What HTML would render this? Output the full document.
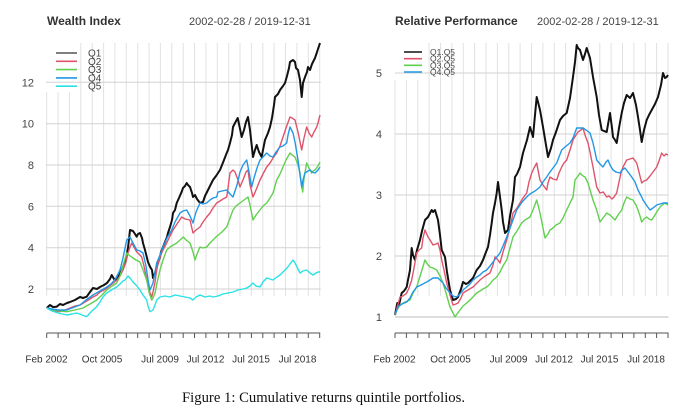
<!DOCTYPE html>
<html>
<head>
<meta charset="utf-8">
<style>
html,body{margin:0;padding:0;background:#fff;}
svg{display:block;}
text{font-family:"Liberation Sans",Arial,sans-serif;}
text.cap{font-family:"Liberation Serif","Times New Roman",serif;}
</style>
</head>
<body>
<svg width="687" height="415" viewBox="0 0 687 415" xmlns="http://www.w3.org/2000/svg">
<rect width="687" height="415" fill="#fff"/>

<!-- ============ LEFT PANEL ============ -->
<g>
  <g stroke="#e2e2e2" stroke-width="1">
    <line x1="46.7" y1="92" x2="46.7" y2="296"/>
    <line x1="58.1" y1="92" x2="58.1" y2="296"/>
    <line x1="69.5" y1="92" x2="69.5" y2="296"/>
    <line x1="80.8" y1="43" x2="80.8" y2="296"/>
    <line x1="92.2" y1="43" x2="92.2" y2="296"/>
    <line x1="103.6" y1="43" x2="103.6" y2="296"/>
    <line x1="114.9" y1="43" x2="114.9" y2="296"/>
    <line x1="126.3" y1="43" x2="126.3" y2="296"/>
    <line x1="137.7" y1="43" x2="137.7" y2="296"/>
    <line x1="149.1" y1="43" x2="149.1" y2="296"/>
    <line x1="160.4" y1="43" x2="160.4" y2="296"/>
    <line x1="171.8" y1="43" x2="171.8" y2="296"/>
    <line x1="183.2" y1="43" x2="183.2" y2="296"/>
    <line x1="194.5" y1="43" x2="194.5" y2="296"/>
    <line x1="205.9" y1="43" x2="205.9" y2="296"/>
    <line x1="217.3" y1="43" x2="217.3" y2="296"/>
    <line x1="228.7" y1="43" x2="228.7" y2="296"/>
    <line x1="240.0" y1="43" x2="240.0" y2="296"/>
    <line x1="251.4" y1="43" x2="251.4" y2="296"/>
    <line x1="262.8" y1="43" x2="262.8" y2="296"/>
    <line x1="274.1" y1="43" x2="274.1" y2="296"/>
    <line x1="285.5" y1="43" x2="285.5" y2="296"/>
    <line x1="296.9" y1="43" x2="296.9" y2="296"/>
    <line x1="308.3" y1="43" x2="308.3" y2="296"/>
    <line x1="319.7" y1="43" x2="319.7" y2="296"/>
  </g>
  <g stroke="#d2d2d2" stroke-width="1">
    <line x1="46" y1="289" x2="320.7" y2="289"/>
    <line x1="46" y1="247.7" x2="320.7" y2="247.7"/>
    <line x1="46" y1="206.3" x2="320.7" y2="206.3"/>
    <line x1="46" y1="165" x2="320.7" y2="165"/>
    <line x1="46" y1="123.7" x2="320.7" y2="123.7"/>
    <line x1="46" y1="82.3" x2="320.7" y2="82.3"/>
  </g>
  <g font-size="11" fill="#444" text-anchor="end">
    <text x="34" y="293">2</text>
    <text x="34" y="251.7">4</text>
    <text x="34" y="210.3">6</text>
    <text x="34" y="169">8</text>
    <text x="34" y="127.7">10</text>
    <text x="34" y="86.3">12</text>
  </g>
  <text x="47" y="25" font-size="12" font-weight="bold" fill="#333">Wealth Index</text>
  <text x="189" y="25" font-size="11" fill="#444">2002-02-28 / 2019-12-31</text>

  <g fill="none" stroke-linejoin="round">
    <polyline stroke="#111" stroke-width="2" points="46.7,308 50,305 53,307 56.7,306.7 60,304 63,305 67,303 70,302 75,300 80,297 83,298 86.7,296.7 90,292 93,288 97,289 100,287 104,285 107,283 110,279 111.7,275 114,279 116.7,280 120,274 123,267 126,258 128,248 130,230 133,231 135,234 136.7,236.7 138,234 140,233 142,238 143,243 145,250 146.7,256.7 148,262 150,266.7 152,270 153,278 155,273 157,266 158,263 160,257 161,252 163,247 165,242 167,237 168,233 170,227 172,220 173,213 175,210 176.7,203 179,198 181.7,191.7 183,188 185,186 186.7,183 188,185 190,187 192,193 193,197 195,195 197,199 200,203 203,202 205,196 208,190 210,186 213,180 216,176 220,170 222,165 224,160 226.7,153 228,150 230,143 232,135 233,127 235,123 237.7,118 239,124 241.7,137 244,130 246,122 248,117 250,130 252,148 253,157 255,150 256.7,145 259,152 261.7,157 263,150 265,140 268,133 270,127 272,118 274,105 275,97 278,94 280,90 283,86 285,83 287,76 289,68 290,62 293,60 295,62 296,68 298,70 300,80 301.7,97 303,83 305,77 307,72 308,67 310,70 312,64 313,62 315,58 316.7,53 318,49 320,43"/>
    <polyline stroke="#DF536B" stroke-width="1.4" points="46.7,308 50,309 55,311 60,311.7 65,310 70,308 75,306 80,305 85,302 90,299 93,297 97,295 100,292 104,290 107,288 112,284 117,280 120,276 123,270 126,262 128,253 130,247 131.7,243 134,247 136.7,252 139,254 141.7,257 144,266 146.7,280 149,290 151.7,297 153,292 155,282 156.7,270 158,264 160,257 163,250 166.7,243 170,236 173,230 177,224 181.7,217 185,219 190,220 193,233 196,230 200,227 203,222 206.7,217 210,213 213,208 216.7,203 220,201 223,199 226.7,197 228,188 230,173 233,170 235,172 238,180 240,187 243,180 246,172 248,170 250,185 253,197 256,190 260,180 263,174 266.7,167 270,163 273,158 276.7,153 280,146 283,137 286,128 290,117 292,118 295,120 298,132 301.7,150 304,138 306.7,127 309,133 311.7,137 314,132 316.7,127 318,123 320,115"/>
    <polyline stroke="#61D04F" stroke-width="1.4" points="46.7,308 53,310 60,311 66.7,311.7 75,310 83,308 90,304 96.7,300 102,295 106.7,290 112,286 116.7,283 120,276 123,266 126.7,253 129,255 131.7,257 136,260 140,262 143,270 146.7,280 149,292 151.7,300 153,298 155,293 157,283 160,270 163,260 166.7,250 170,247 176.7,243 180,240 183.3,237 186,240 190,243 193,252 195,260 197,254 200,247 203,248 206.7,247 210,243 213,240 217,236 222,232 226.7,227 230,218 233,210 236,206 240,203 244,200 248,197 250,205 253,220 256,215 260,210 263,206 266.7,203 270,198 273,193 276.7,180 280,174 283,167 286,160 290,153 292,155 295,157 298,165 300,173 301.5,185 302.7,192 304,178 306.7,163 309,168 311.7,173 313,171 315,170 318,166 320,162"/>
    <polyline stroke="#2297E6" stroke-width="1.4" points="46.7,308 52,309 58,310 66.7,310 72,308 80,305 86,300 93,295 100,291 107,287 112,283 116,278 120,270 123,258 126.7,240 130,237 133,243 136.7,250 140,251 143,253 146,266 148,280 150,290 153,283 155,272 156.7,263 160,255 163,247 167,238 171.7,230 175,222 180,213 183,211 186.7,210 190,216 193,223 196,212 200,203 203,204 206.7,203 210,200 213,198 216.7,197 218,192 222,191 226.7,190 230,194 233,197 237,185 240,172 243,165 246.7,160 249,172 251.7,187 254,178 257,168 260,160 263,157 266.7,153 270,156 273,157 276,152 280,147 283,146 286.7,143 288,135 290,127 293,133 295,142 298,160 300,175 301.7,187 303,180 305,173 308,171 310,170 312,172 315,173 318,170 320,167"/>
    <polyline stroke="#28E2E5" stroke-width="1.4" points="46.7,308 52,311 58,313 66.7,315 72,314 76.7,313 82,315 86.7,316.7 90,313 93,310 96.7,306.7 100,302 103,297 106.7,293 110,291 113,289 116.7,287 120,284 123,281 125,280 128,276 130,278 133,282 136,285 140,290 143,295 146.7,300 148,306 150,311.7 153,310 155,305 156.7,300 160,297 165,296 170,297 175,295 180,296 185,297 190,298 193,300 196,297 200,295 205,297 210,296 213,297 218,296 223,294 228,293 233,292 238,290 243,289 246.7,288 250,286 253,283 256,286 260,287 263,282 266.7,278 270,279 273,280 277,277 280,275 283,272 287,268 290,264 293,260 295,263 297,267 300,273 303,271 306.7,270 310,273 313,275 316,273 318,272 320,272"/>
  </g>

  <g stroke-width="1.6">
    <line x1="56" y1="53" x2="77" y2="53" stroke="#555"/>
    <line x1="56" y1="61.3" x2="77" y2="61.3" stroke="#DF536B"/>
    <line x1="56" y1="69.6" x2="77" y2="69.6" stroke="#61D04F"/>
    <line x1="56" y1="77.9" x2="77" y2="77.9" stroke="#2297E6"/>
    <line x1="56" y1="86.2" x2="77" y2="86.2" stroke="#28E2E5"/>
  </g>
  <g font-size="10" fill="#444">
    <text x="88" y="56.5">Q1</text>
    <text x="88" y="64.8">Q2</text>
    <text x="88" y="73.1">Q3</text>
    <text x="88" y="81.4">Q4</text>
    <text x="88" y="89.7">Q5</text>
  </g>

  <g stroke="#555" stroke-width="1">
    <line x1="46.7" y1="333" x2="320.2" y2="333"/>
    <line x1="46.7" y1="333" x2="46.7" y2="338"/>
    <line x1="58.1" y1="333" x2="58.1" y2="338"/>
    <line x1="69.5" y1="333" x2="69.5" y2="338"/>
    <line x1="80.8" y1="333" x2="80.8" y2="338"/>
    <line x1="92.2" y1="333" x2="92.2" y2="338"/>
    <line x1="103.6" y1="333" x2="103.6" y2="338"/>
    <line x1="114.9" y1="333" x2="114.9" y2="338"/>
    <line x1="126.3" y1="333" x2="126.3" y2="338"/>
    <line x1="137.7" y1="333" x2="137.7" y2="338"/>
    <line x1="149.1" y1="333" x2="149.1" y2="338"/>
    <line x1="160.4" y1="333" x2="160.4" y2="338"/>
    <line x1="171.8" y1="333" x2="171.8" y2="338"/>
    <line x1="183.2" y1="333" x2="183.2" y2="338"/>
    <line x1="194.5" y1="333" x2="194.5" y2="338"/>
    <line x1="205.9" y1="333" x2="205.9" y2="338"/>
    <line x1="217.3" y1="333" x2="217.3" y2="338"/>
    <line x1="228.7" y1="333" x2="228.7" y2="338"/>
    <line x1="240.0" y1="333" x2="240.0" y2="338"/>
    <line x1="251.4" y1="333" x2="251.4" y2="338"/>
    <line x1="262.8" y1="333" x2="262.8" y2="338"/>
    <line x1="274.1" y1="333" x2="274.1" y2="338"/>
    <line x1="285.5" y1="333" x2="285.5" y2="338"/>
    <line x1="296.9" y1="333" x2="296.9" y2="338"/>
    <line x1="308.3" y1="333" x2="308.3" y2="338"/>
    <line x1="319.7" y1="333" x2="319.7" y2="338"/>
  </g>
  <g font-size="10" fill="#333" text-anchor="middle">
    <text x="46.5" y="362.5">Feb 2002</text>
    <text x="102" y="362.5">Oct 2005</text>
    <text x="160" y="362.5">Jul 2009</text>
    <text x="205.5" y="362.5">Jul 2012</text>
    <text x="251" y="362.5">Jul 2015</text>
    <text x="297.5" y="362.5">Jul 2018</text>
  </g>
</g>

<!-- ============ RIGHT PANEL ============ -->
<g>
  <g stroke="#e2e2e2" stroke-width="1">
    <line x1="395.0" y1="80" x2="395.0" y2="296"/>
    <line x1="406.4" y1="80" x2="406.4" y2="296"/>
    <line x1="417.8" y1="80" x2="417.8" y2="296"/>
    <line x1="429.1" y1="43" x2="429.1" y2="296"/>
    <line x1="440.5" y1="43" x2="440.5" y2="296"/>
    <line x1="451.9" y1="43" x2="451.9" y2="296"/>
    <line x1="463.3" y1="43" x2="463.3" y2="296"/>
    <line x1="474.6" y1="43" x2="474.6" y2="296"/>
    <line x1="486.0" y1="43" x2="486.0" y2="296"/>
    <line x1="497.4" y1="43" x2="497.4" y2="296"/>
    <line x1="508.8" y1="43" x2="508.8" y2="296"/>
    <line x1="520.1" y1="43" x2="520.1" y2="296"/>
    <line x1="531.5" y1="43" x2="531.5" y2="296"/>
    <line x1="542.9" y1="43" x2="542.9" y2="296"/>
    <line x1="554.3" y1="43" x2="554.3" y2="296"/>
    <line x1="565.6" y1="43" x2="565.6" y2="296"/>
    <line x1="577.0" y1="43" x2="577.0" y2="296"/>
    <line x1="588.4" y1="43" x2="588.4" y2="296"/>
    <line x1="599.8" y1="43" x2="599.8" y2="296"/>
    <line x1="611.1" y1="43" x2="611.1" y2="296"/>
    <line x1="622.5" y1="43" x2="622.5" y2="296"/>
    <line x1="633.9" y1="43" x2="633.9" y2="296"/>
    <line x1="645.3" y1="43" x2="645.3" y2="296"/>
    <line x1="656.6" y1="43" x2="656.6" y2="296"/>
    <line x1="668.0" y1="43" x2="668.0" y2="296"/>
  </g>
  <g stroke="#d2d2d2" stroke-width="1">
    <line x1="395" y1="256" x2="668.5" y2="256"/>
    <line x1="395" y1="195" x2="668.5" y2="195"/>
    <line x1="395" y1="134" x2="668.5" y2="134"/>
    <line x1="395" y1="73" x2="668.5" y2="73"/>
  </g>
  <line x1="395" y1="317" x2="668.5" y2="317" stroke="#bbb" stroke-width="1"/>
  <g font-size="11" fill="#444" text-anchor="end">
    <text x="382" y="321">1</text>
    <text x="382" y="260">2</text>
    <text x="382" y="199">3</text>
    <text x="382" y="138">4</text>
    <text x="382" y="77">5</text>
  </g>
  <text x="395" y="25" font-size="12" font-weight="bold" fill="#333">Relative Performance</text>
  <text x="537" y="25" font-size="11" fill="#444">2002-02-28 / 2019-12-31</text>

  <g fill="none" stroke-linejoin="round">
    <polyline stroke="#111" stroke-width="2" points="395,315 397.3,303 399,305 401.7,293 404,291 406.7,287 408,280 410,270 411.7,248 413,255 415,260 417,250 420,240 422,231 425,220 428,217 431.7,210 433,212 435,210 438,220 440,235 441.7,250 445,257 447,272 450,290 453,300 456,299 458,297 461,289 463,282 466,284 468,283 471,280 473,278 476.7,270 480,266 483,260 486,252 488,247 490,235 491.7,223 493,213 495,203 496.7,193 498,182 500,197 501.7,210 503,222 505,233 508,230 510,216 511.7,207 513,200 515,177 517,174 520,167 523,153 527,140 530,127 533,137 535,115 536.7,97 538,102 540,110 543,127 546,145 548,157 551,148 553,140 556,132 560,120 563,116 566.7,113 570,98 573,77 575,62 576.7,45 578,48 580,50 583,60 585,54 586.7,48 588,52 590,58 593,77 596.7,97 599,115 601.7,130 604,131 606.7,132 610,113 612,128 613,137 615,140 616.7,143 619,128 621.7,113 624,103 626.7,95 630,98 633,93 636,105 638,117 640,130 641.7,142 644,130 646.7,120 649,115 651.7,110 655,104 658,97 661,85 663,73 665,78 666.7,77 668,75"/>
    <polyline stroke="#DF536B" stroke-width="1.4" points="395,315 397,308 400,297 403,296 406.7,293 409,288 411.7,280 414,268 416.7,253 419,250 421.7,248 423,238 425,230 428,237 430,240 433,245 436,244 438,243 440,250 441.7,260 444,270 446.7,283 450,295 453,305 456,304 458,303 461,298 463,293 468,290 473,287 477,283 480,280 485,276 490,273 493,265 495,257 498,260 500,263 503,252 506.7,240 510,228 513,213 517,208 520,203 523,198 526.7,193 529,182 531.7,173 534,168 536.7,163 538,170 540,180 543,185 546.7,190 548,183 550,177 553,179 556.7,180 559,173 561.7,167 564,163 566.7,160 570,150 573,140 576,135 578,132 581,130 583,128 585,135 588,143 590,152 593,167 595,178 596.7,187 600,193 603.3,192 606.7,197 609,196 612,199 614,197 616.7,193 619,182 621,173 623,167 626.7,160 630,159 633,158 636.7,163 639,172 641.7,183 644,181 646.7,180 650,176 653,172 656.7,167 659,161 661.7,153 664,156 666,154 668,155"/>
    <polyline stroke="#61D04F" stroke-width="1.4" points="395,315 397,310 400,305 405,302 410,300 413,293 416.7,287 421,273 425,260 428,265 430,267 433,268 436.7,270 440,276 443,283 446,293 450,307 453,313 455,317 457,314 460,310 463,306 466.7,303 470,300 473,297 476.7,293 480,291 483,289 486.7,287 490,284 493,280 496.7,277 500,272 503,266 506.7,260 510,248 513,237 517,231 521.7,223 525,220 530,217 533,210 536.7,200 538,205 540,213 543,228 545,238 548,234 550,230 553,228 556,225 560,223 563,218 566.7,210 570,203 573,197 575,180 578,176 580,173 583,176 585,177 588,183 590,190 593,200 596.7,210 600,222 603,218 606.7,213 610,215 615,220 618,215 621.7,210 624,203 626.7,197 630,199 633,200 636,205 638,210 640,216 641.7,222 644,219 646.7,217 649,219 651.7,220 655,215 658,210 661,206 665,203 668,205"/>
    <polyline stroke="#2297E6" stroke-width="1.4" points="395,315 398,307 402,304 406.7,302 410,298 413,292 416.7,287 421,285 426.7,282 430,280 433,278 438,278 443,283 446,288 450,293 453,296 456.7,297 460,294 463,290 466.7,287 470,284 473,280 476.7,277 480,275 483,272 486.7,270 490,266 493,262 496,258 500,253 503,246 506.7,237 510,228 513,220 516.7,210 520,205 523,201 526.7,197 530,194 535,191 540,187 543,182 546.7,177 550,172 553,168 556.7,163 559,157 561.7,150 565,147 570,143 573,138 576.7,128 580,128 583,128 586,130 590,133 593,143 595,152 596.7,160 600,164 603,167 606,162 608,160 610,165 613,170 616,172 620,173 622,170 625,168 628,172 631.7,177 635,182 638,190 641.7,197 643,200 645,203 647,206 650,210 653,208 656.7,205 660,204 663.3,203 666,203 668,203"/>
  </g>

  <g stroke-width="1.6">
    <line x1="404" y1="52" x2="422" y2="52" stroke="#111"/>
    <line x1="404" y1="58.7" x2="422" y2="58.7" stroke="#DF536B"/>
    <line x1="404" y1="65.3" x2="422" y2="65.3" stroke="#61D04F"/>
    <line x1="404" y1="72" x2="422" y2="72" stroke="#2297E6"/>
  </g>
  <g font-size="8.5" fill="#444">
    <text x="430" y="55">Q1.Q5</text>
    <text x="430" y="61.7">Q2.Q5</text>
    <text x="430" y="68.3">Q3.Q5</text>
    <text x="430" y="75">Q4.Q5</text>
  </g>

  <g stroke="#555" stroke-width="1">
    <line x1="395" y1="333" x2="668.5" y2="333"/>
    <line x1="395.0" y1="333" x2="395.0" y2="338"/>
    <line x1="406.4" y1="333" x2="406.4" y2="338"/>
    <line x1="417.8" y1="333" x2="417.8" y2="338"/>
    <line x1="429.1" y1="333" x2="429.1" y2="338"/>
    <line x1="440.5" y1="333" x2="440.5" y2="338"/>
    <line x1="451.9" y1="333" x2="451.9" y2="338"/>
    <line x1="463.3" y1="333" x2="463.3" y2="338"/>
    <line x1="474.6" y1="333" x2="474.6" y2="338"/>
    <line x1="486.0" y1="333" x2="486.0" y2="338"/>
    <line x1="497.4" y1="333" x2="497.4" y2="338"/>
    <line x1="508.8" y1="333" x2="508.8" y2="338"/>
    <line x1="520.1" y1="333" x2="520.1" y2="338"/>
    <line x1="531.5" y1="333" x2="531.5" y2="338"/>
    <line x1="542.9" y1="333" x2="542.9" y2="338"/>
    <line x1="554.3" y1="333" x2="554.3" y2="338"/>
    <line x1="565.6" y1="333" x2="565.6" y2="338"/>
    <line x1="577.0" y1="333" x2="577.0" y2="338"/>
    <line x1="588.4" y1="333" x2="588.4" y2="338"/>
    <line x1="599.8" y1="333" x2="599.8" y2="338"/>
    <line x1="611.1" y1="333" x2="611.1" y2="338"/>
    <line x1="622.5" y1="333" x2="622.5" y2="338"/>
    <line x1="633.9" y1="333" x2="633.9" y2="338"/>
    <line x1="645.3" y1="333" x2="645.3" y2="338"/>
    <line x1="656.6" y1="333" x2="656.6" y2="338"/>
    <line x1="668.0" y1="333" x2="668.0" y2="338"/>
  </g>
  <g font-size="10" fill="#333" text-anchor="middle">
    <text x="394.5" y="362.5">Feb 2002</text>
    <text x="450.5" y="362.5">Oct 2005</text>
    <text x="508.5" y="362.5">Jul 2009</text>
    <text x="554" y="362.5">Jul 2012</text>
    <text x="599.5" y="362.5">Jul 2015</text>
    <text x="646" y="362.5">Jul 2018</text>
  </g>
</g>

<!-- caption -->
<text class="cap" x="182" y="402" style="font-family:'Liberation Serif','Times New Roman',serif;font-size:14.7px;" fill="#111" textLength="283" lengthAdjust="spacingAndGlyphs">Figure 1: Cumulative returns quintile portfolios.</text>
</svg>
</body>
</html>
